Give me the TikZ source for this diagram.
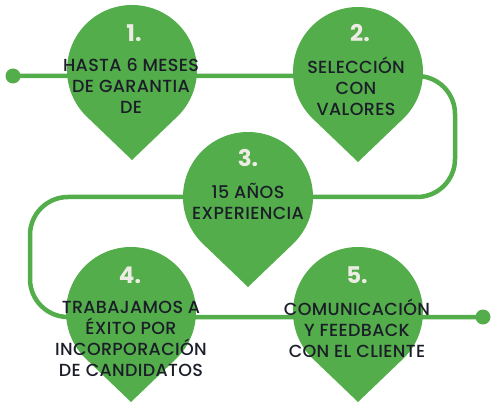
\documentclass[tikz,border=0pt]{standalone}
\usepackage{fontspec}
\setmainfont{Poppins}
\newfontfamily\pinfont{Poppins}[UprightFont=* Medium,LetterSpace=2]
\usetikzlibrary{calc}
\definecolor{leaf}{RGB}{82,173,74}
\definecolor{ink}{RGB}{27,30,40}
\definecolor{chalk}{RGB}{236,236,228}
\begin{document}
\begin{tikzpicture}[x=1pt,y=1pt,
    track/.style={leaf,line width=4.5pt,rounded corners=38pt},
    dot/.style={circle,fill=leaf,inner sep=0pt,minimum size=15pt},
    numlbl/.style={text=chalk,font=\bfseries\fontsize{23}{23}\selectfont},
    pintext/.style={text=ink,align=center,font=\pinfont\fontsize{17.5}{21}\selectfont}]
  \useasboundingbox (0,0) rectangle (500,407);
  % path behind the pins
  \node[dot] (start) at (13,331) {};
  \node[dot] (end) at (483,90) {};
  \coordinate (r1) at (455,331);
  \coordinate (r2) at (455,210);
  \coordinate (l1) at (30,210);
  \coordinate (l2) at (30,90);
  \draw[track] (start.center) -- (r1) -- (r2) -- (l1) -- (l2) -- (end.center);
  % the five pins
  \foreach \n/\px/\py in {1/132/337,2/358/335,3/248/210,4/131/95,5/358/95}{
    \coordinate (pin\n) at (\px,\py);
    \fill[leaf] (pin\n) ++(225:65) arc[start angle=225,end angle=-45,radius=65]
      -- ($(pin\n)+(0,-90)$) -- cycle;
  }
  \node[numlbl] (n1) at (134,374) {1.};
  \node[numlbl] (n2) at (360,374) {2.};
  \node[numlbl] (n3) at (248,249) {3.};
  \node[numlbl] (n4) at (130,132) {4.};
  \node[numlbl] (n5) at (357,132) {5.};
  \node[pintext] (t1) at (131,321) {HASTA 6 MESES\\DE GARANTIA\\DE};
  \node[pintext] (t2) at (356,321) {SELECCIÓN\\CON\\VALORES};
  \node[pintext] (t3) at (248,206) {15 AÑOS\\EXPERIENCIA};
  \node[pintext] (t4) at (131,68) {TRABAJAMOS A\\ÉXITO POR\\INCORPORACIÓN\\DE CANDIDATOS};
  \node[pintext] (t5) at (357,79) {COMUNICACIÓN\\Y FEEDBACK\\CON EL CLIENTE};
\end{tikzpicture}
\end{document}
